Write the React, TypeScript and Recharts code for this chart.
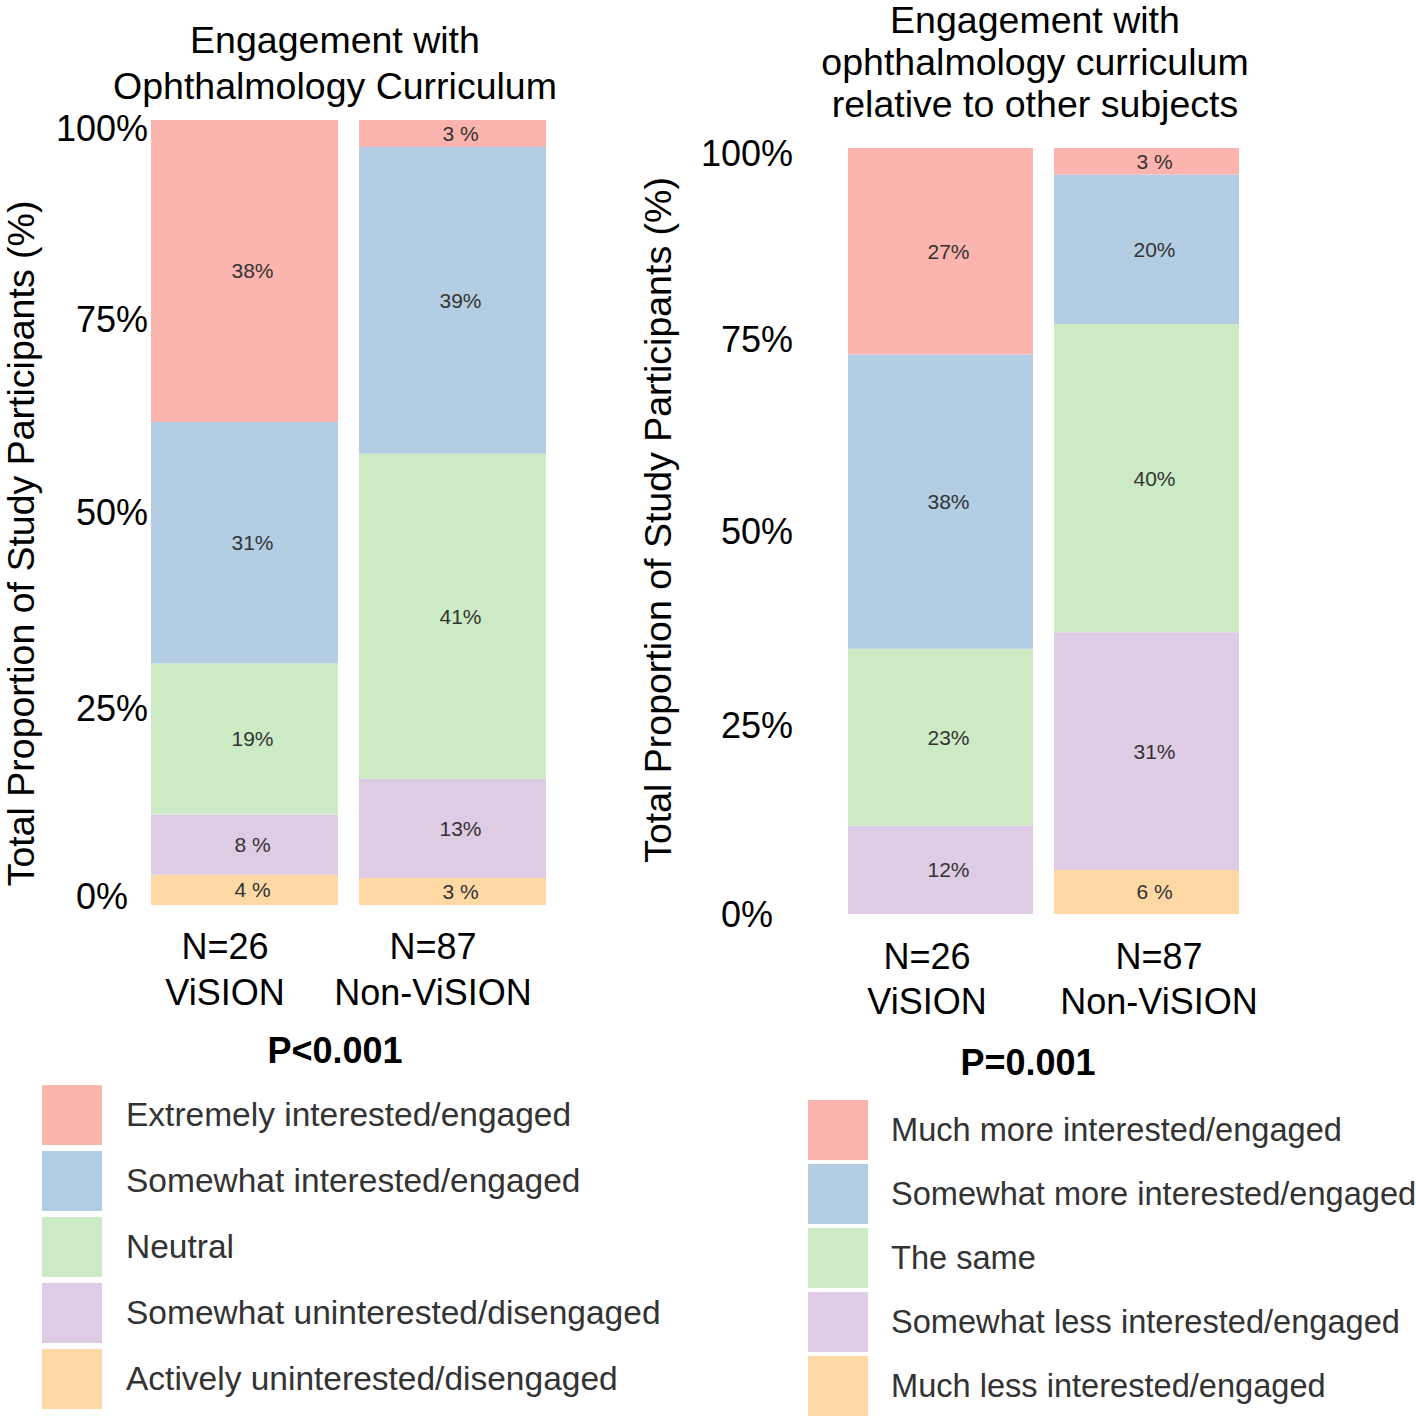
import React from 'react';
import { BarChart, Bar, XAxis, YAxis, LabelList } from 'recharts';

// ---------- data ----------
const groupKeys = ['ViSION', 'Non-ViSION'];
const groupN = ['N=26', 'N=87'];
const yTicks = [0, 25, 50, 75, 100];
const palette = ['#FBB4AE', '#B3CDE3', '#CCEBC5', '#DECBE4', '#FED9A6'];

const leftTitle = ['Engagement with', 'Ophthalmology Curriculum'];
const leftCategories = [
  'Extremely interested/engaged',
  'Somewhat interested/engaged',
  'Neutral',
  'Somewhat uninterested/disengaged',
  'Actively uninterested/disengaged',
];
const leftVision = [38.46, 30.77, 19.23, 7.69, 3.85];
const leftNonVision = [3.45, 39.08, 41.38, 12.64, 3.45];
const leftP = 'P<0.001';

const rightTitle = ['Engagement with', 'ophthalmology curriculum', 'relative to other subjects'];
const rightCategories = [
  'Much more interested/engaged',
  'Somewhat more interested/engaged',
  'The same',
  'Somewhat less interested/engaged',
  'Much less interested/engaged',
];
const rightVision = [26.92, 38.46, 23.08, 11.54, 0];
const rightNonVision = [3.45, 19.54, 40.23, 31.03, 5.75];
const rightP = 'P=0.001';

const yAxisTitle = 'Total Proportion of Study Participants (%)';

// ---------- helpers ----------
const FONT = '"Liberation Sans", Arial, Helvetica, sans-serif';
const seriesKeys = ['k0', 'k1', 'k2', 'k3', 'k4'];

function buildRows(vision: number[], nonVision: number[]) {
  return [vision, nonVision].map((vals, gi) => {
    const row: any = { group: groupKeys[gi], n: groupN[gi] };
    vals.forEach((v, i) => {
      row[seriesKeys[i]] = v;
    });
    return row;
  });
}

const fmtPct = (v: any) => {
  const n = Number(v);
  if (!n || n <= 0) return '';
  const r = Math.round(n);
  return r < 10 ? `${r} %` : `${r}%`;
};

type Box = {
  left: number;
  width: number;
  height: number;
  plotTop: number;
  plotBottom: number;
  plotLeft: number;
  plotRight: number;
  barSize: number;
  tickDx: number;
  tickNudge: Record<number, [number, number]>;
  yLabelX: number;
  yLabelDy: number;
  xDx: number[];
  xDy: number[];
  labelDx: number;
};

function Panel({ data, box }: { data: any[]; box: Box }) {
  const yAxisWidth = box.plotLeft - box.left;
  const rightMargin = box.left + box.width - box.plotRight;
  const xAxisHeight = box.height - box.plotBottom;

  const xTick = (p: any) => {
    const { x, y, index, payload } = p;
    const row = data[index] || data.find((d) => d.group === payload.value);
    const cx = x + (box.xDx[index] || 0);
    return (
      <g>
        <text x={cx} y={y + box.xDy[0]} textAnchor="middle" dominantBaseline="central"
          fontFamily={FONT} fontSize={36} fill="#000">{row ? row.n : ''}</text>
        <text x={cx} y={y + box.xDy[1]} textAnchor="middle" dominantBaseline="central"
          fontFamily={FONT} fontSize={36} fill="#000">{payload.value}</text>
      </g>
    );
  };

  const yTick = (p: any) => {
    const { x, y, payload } = p;
    const nudge = box.tickNudge[payload.value] || [0, 0];
    return (
      <text x={x + box.tickDx + nudge[0]} y={y + nudge[1]} textAnchor="end" dominantBaseline="central"
        fontFamily={FONT} fontSize={36} fill="#000">{`${payload.value}%`}</text>
    );
  };

  const yLabel = (p: any) => {
    const vb = p && p.viewBox ? p.viewBox : { x: 0, y: box.plotTop, width: yAxisWidth, height: box.plotBottom - box.plotTop };
    const cx = (vb.x || 0) + box.yLabelX;
    const cy = (vb.y || 0) + (vb.height || 0) / 2 + box.yLabelDy;
    return (
      <text x={cx} y={cy} transform={`rotate(-90 ${cx} ${cy})`} textAnchor="middle"
        dominantBaseline="central" fontFamily={FONT} fontSize={37.5} fill="#000">{yAxisTitle}</text>
    );
  };

  const barLabel = (p: any) => {
    const vb = p.viewBox || p;
    const x = Number(vb.x ?? p.x);
    const y = Number(vb.y ?? p.y);
    const w = Number(vb.width ?? p.width);
    const h = Number(vb.height ?? p.height);
    const txt = fmtPct(p.value);
    if (!txt) return null;
    return (
      <text x={x + w / 2 + box.labelDx} y={y + h / 2} textAnchor="middle" dominantBaseline="central"
        fontFamily={FONT} fontSize={21} fill="#333">{txt}</text>
    );
  };

  const order = [4, 3, 2, 1, 0];

  return (
    <div style={{ position: 'absolute', left: box.left, top: 0 }}>
      <BarChart
        width={box.width}
        height={box.height}
        data={data}
        margin={{ top: box.plotTop, right: rightMargin, bottom: 0, left: 0 }}
        barCategoryGap={0}
      >
        <XAxis
          dataKey="group"
          axisLine={false}
          tickLine={false}
          tickSize={0}
          tickMargin={0}
          height={xAxisHeight}
          interval={0}
          tick={xTick}
        />
        <YAxis
          type="number"
          domain={[0, 100]}
          ticks={yTicks}
          width={yAxisWidth}
          axisLine={false}
          tickLine={false}
          tickSize={0}
          tickMargin={0}
          tick={yTick}
          label={{ content: yLabel } as any}
        />
        {order.map((i) => (
          <Bar
            key={seriesKeys[i]}
            dataKey={seriesKeys[i]}
            stackId="s"
            fill={palette[i]}
            barSize={box.barSize}
            isAnimationActive={false}
          >
            <LabelList dataKey={seriesKeys[i]} content={barLabel as any} />
          </Bar>
        ))}
      </BarChart>
    </div>
  );
}

function Title({ lines, cx, centers }: { lines: string[]; cx: number; centers: number[] }) {
  return (
    <>
      {lines.map((l, i) => (
        <div key={i} style={{ position: 'absolute', left: cx - 300, width: 600, top: centers[i] - 20, height: 40,
          textAlign: 'center', fontFamily: FONT, fontSize: 37.5, lineHeight: '40px', color: '#000' }}>{l}</div>
      ))}
    </>
  );
}

function PLabel({ text, cx, cy }: { text: string; cx: number; cy: number }) {
  return (
    <div style={{ position: 'absolute', left: cx - 150, width: 300, top: cy - 22, height: 44,
      lineHeight: '44px', textAlign: 'center', fontFamily: FONT, fontSize: 36, fontWeight: 'bold', color: '#000' }}>
      {text}
    </div>
  );
}

function LegendBlock({ categories, boxLeft, top, step, textLeft, fontSize }: { categories: string[]; boxLeft: number; top: number; step: number; textLeft: number; fontSize: number }) {
  return (
    <>
      {categories.map((c, i) => (
        <React.Fragment key={c}>
          <div style={{ position: 'absolute', left: boxLeft, top: top + i * step, width: 60, height: 60, background: palette[i] }} />
          <div style={{ position: 'absolute', left: textLeft, top: top + i * step, height: 60, lineHeight: '60px',
            fontFamily: FONT, fontSize, color: '#333', whiteSpace: 'nowrap' }}>{c}</div>
        </React.Fragment>
      ))}
    </>
  );
}

const leftBox: Box = {
  left: 0, width: 700, height: 1060,
  plotTop: 120, plotBottom: 905, plotLeft: 140, plotRight: 556,
  barSize: 187, tickDx: 8, tickNudge: { 100: [0, 8], 75: [0, 3], 0: [-20, -9] },
  yLabelX: 21, yLabelDy: 31,
  xDx: [-19, -19], xDy: [41, 87], labelDx: 8,
};

const rightBox: Box = {
  left: 600, width: 816, height: 1080,
  plotTop: 148, plotBottom: 914, plotLeft: 837, plotRight: 1249,
  barSize: 185, tickDx: -44, tickNudge: { 100: [0, 5], 25: [0, 3], 0: [-20, 0] },
  yLabelX: 58, yLabelDy: -11,
  xDx: [-13, 13], xDy: [42, 87], labelDx: 8,
};

export default function App() {
  const leftData = buildRows(leftVision, leftNonVision);
  const rightData = buildRows(rightVision, rightNonVision);
  return (
    <div style={{ position: 'absolute', left: 0, top: 0, width: 1416, height: 1418, background: '#fff', overflow: 'hidden' }}>
      <Panel data={leftData} box={leftBox} />
      <Panel data={rightData} box={rightBox} />
      <Title lines={leftTitle} cx={335} centers={[40, 86]} />
      <Title lines={rightTitle} cx={1035} centers={[20, 62, 104]} />
      <PLabel text={leftP} cx={335} cy={1051} />
      <PLabel text={rightP} cx={1028} cy={1063} />
      <LegendBlock categories={leftCategories} boxLeft={42} top={1085} step={66} textLeft={126} fontSize={33.5} />
      <LegendBlock categories={rightCategories} boxLeft={808} top={1100} step={64} textLeft={891} fontSize={32.6} />
    </div>
  );
}
